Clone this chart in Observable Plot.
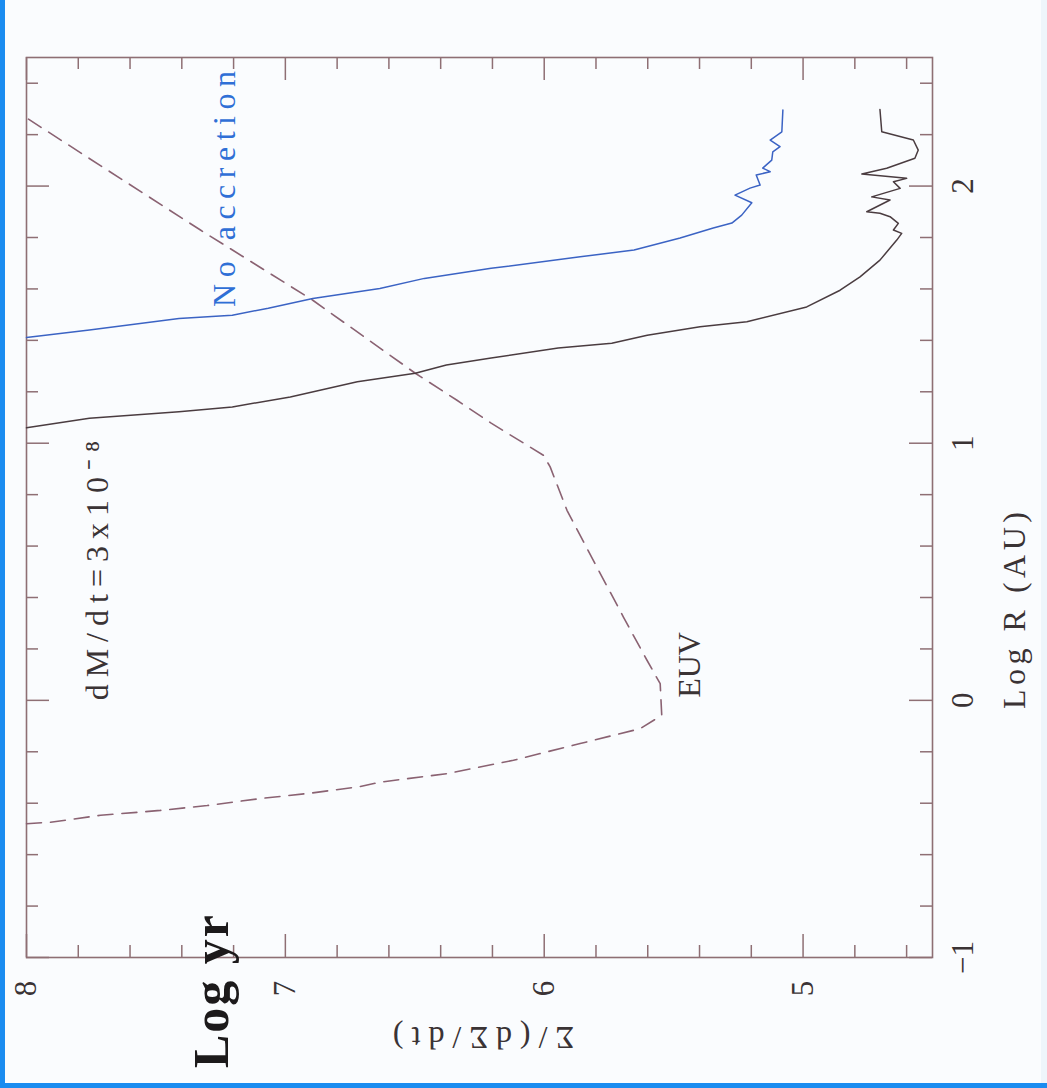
<!DOCTYPE html>
<html>
<head>
<meta charset="utf-8">
<script src="https://cdn.jsdelivr.net/npm/d3@7"></script>
<script src="https://cdn.jsdelivr.net/npm/@observablehq/plot@0.6"></script>
<style>
  html, body { margin: 0; padding: 0; background: #fafcfe; }
  #wrap { position: relative; width: 1047px; height: 1088px; overflow: hidden;
          box-shadow: inset 5px -5px 0 #1a8cf0, inset -6px 0 0 #eef5fb; }
  #wrap svg { display: block; }
</style>
</head>
<body>
<div id="wrap"></div>
<script>
// ---- Data ----
// x of the drawing = Σ/(dΣ/dt) in log yr (8 on the left), y = Log R (AU)
const sigmaTicks = [8, 7, 6, 5];
const sigmaMinor = [7.8, 7.6, 7.4, 7.2, 6.8, 6.6, 6.4, 6.2, 5.8, 5.6, 5.4, 5.2, 4.8, 4.6];
const logRTicks = [-1, 0, 1, 2];
const logRMinor = [-0.8, -0.6, -0.4, -0.2, 0.2, 0.4, 0.6, 0.8, 1.2, 1.4, 1.6, 1.8, 2.2, 2.4];

// dM/dt = 3x10^-8 (dark solid)
const accSigma = [8.0, 7.757, 7.411, 7.205, 6.981, 6.722, 6.498, 6.378, 6.205, 5.946, 5.739, 5.602, 5.398, 5.217, 4.986, 4.857, 4.780, 4.703, 4.638, 4.619, 4.651, 4.632, 4.664, 4.703, 4.754, 4.664, 4.735, 4.625, 4.651, 4.600, 4.773, 4.677, 4.568, 4.555, 4.574, 4.696, 4.703];
const accLogR  = [1.06, 1.097, 1.122, 1.141, 1.180, 1.239, 1.272, 1.304, 1.331, 1.370, 1.389, 1.420, 1.453, 1.472, 1.530, 1.595, 1.647, 1.712, 1.790, 1.816, 1.829, 1.855, 1.881, 1.894, 1.900, 1.946, 1.958, 1.991, 2.017, 2.030, 2.047, 2.069, 2.108, 2.140, 2.179, 2.211, 2.298];

// No accretion (blue solid)
const noAccSigma = [8.0, 7.757, 7.411, 7.205, 7.066, 6.894, 6.635, 6.463, 6.205, 5.861, 5.653, 5.475, 5.347, 5.275, 5.237, 5.198, 5.263, 5.205, 5.166, 5.181, 5.127, 5.156, 5.121, 5.117, 5.089, 5.127, 5.082, 5.078];
const noAccLogR  = [1.411, 1.440, 1.485, 1.498, 1.525, 1.563, 1.602, 1.641, 1.680, 1.725, 1.751, 1.798, 1.837, 1.856, 1.887, 1.935, 1.965, 1.992, 2.004, 2.043, 2.056, 2.070, 2.101, 2.133, 2.153, 2.179, 2.211, 2.296];

// EUV photoevaporation timescale (dashed)
const euvSigma = [8.0, 7.907, 7.714, 7.483, 7.302, 7.097, 6.903, 6.710, 6.633, 6.376, 6.119, 5.861, 5.629, 5.546, 5.552, 5.603, 5.694, 5.797, 5.912, 5.977, 6.003, 6.205, 6.337, 6.498, 6.894, 7.328, 8.0];
const euvLogR  = [-0.48, -0.474, -0.447, -0.428, -0.409, -0.382, -0.361, -0.335, -0.318, -0.285, -0.233, -0.168, -0.110, -0.058, 0.065, 0.156, 0.324, 0.519, 0.739, 0.908, 0.953, 1.078, 1.167, 1.272, 1.556, 1.829, 2.265];

// Text annotations (anchored in data space)
const noteText  = ["dM/dt=3x10⁻⁸", "EUV"];
const noteSigma = [7.726, 5.436];
const noteLogR  = [0.0, 0.01];
const blueText  = ["No accretion"];
const blueSigma = [7.235];
const blueLogR  = [1.53];
const bigText   = ["Log yr"];
const bigSigma  = [7.282];
const bigLogR   = [-1.43];
const xTitle = "Σ/(dΣ/dt)";
const yTitle = "Log R (AU)";

// ---- Styling ----
const frameColor = "#8e6f74";
const inkColor = "#3a3335";
const font = "Liberation Serif";
const fw = 906, fh = 900; // frame inner size
const major = 23, minor = 12;

const chart = Plot.plot({
  width: 1047,
  height: 1088,
  marginLeft: 26,
  marginRight: 115,
  marginTop: 57,
  marginBottom: 131,
  style: {background: "transparent", fontFamily: font, color: inkColor},
  x: {domain: [8, 4.5], axis: null},
  y: {domain: [-1, 2.5], axis: null},
  marks: [
    Plot.frame({stroke: frameColor, strokeWidth: 1.6}),
    // inward ticks on all four sides
    Plot.tickX(sigmaTicks, {insetBottom: fh - major, stroke: frameColor, strokeWidth: 1.5}),
    Plot.tickX(sigmaMinor, {insetBottom: fh - minor, stroke: frameColor, strokeWidth: 1.5}),
    Plot.tickX(sigmaTicks, {insetTop: fh - major, stroke: frameColor, strokeWidth: 1.5}),
    Plot.tickX(sigmaMinor, {insetTop: fh - minor, stroke: frameColor, strokeWidth: 1.5}),
    Plot.tickY(logRTicks, {insetRight: fw - major, stroke: frameColor, strokeWidth: 1.5}),
    Plot.tickY(logRMinor, {insetRight: fw - minor, stroke: frameColor, strokeWidth: 1.5}),
    Plot.tickY(logRTicks, {insetLeft: fw - major, stroke: frameColor, strokeWidth: 1.5}),
    Plot.tickY(logRMinor, {insetLeft: fw - minor, stroke: frameColor, strokeWidth: 1.5}),
    // tick labels (whole figure is turned 90° counter-clockwise)
    Plot.text(sigmaTicks, {x: d => d, text: d => String(d), frameAnchor: "bottom", dy: 31,
      rotate: -90, textAnchor: "middle", lineAnchor: "middle", fontSize: 31, fill: inkColor}),
    Plot.text(logRTicks, {y: d => d, text: d => d < 0 ? "−" + (-d) : String(d), frameAnchor: "right", dx: 31,
      rotate: -90, textAnchor: "middle", lineAnchor: "middle", fontSize: 31, fill: inkColor}),
    // axis titles
    Plot.text([xTitle], {frameAnchor: "bottom", dy: 80, rotate: 180, text: d => d,
      fontSize: 32, fill: inkColor, lineAnchor: "middle"}),
    Plot.text([yTitle], {frameAnchor: "right", dx: 82, rotate: -90, text: d => d,
      fontSize: 32, fill: inkColor, lineAnchor: "middle"}),
    // curves
    Plot.line(euvSigma.map((s, i) => ({s, r: euvLogR[i]})), {x: "s", y: "r",
      stroke: "#8a6272", strokeWidth: 1.6, strokeDasharray: "15,9"}),
    Plot.line(accSigma.map((s, i) => ({s, r: accLogR[i]})), {x: "s", y: "r",
      stroke: "#4a3c40", strokeWidth: 1.5}),
    Plot.line(noAccSigma.map((s, i) => ({s, r: noAccLogR[i]})), {x: "s", y: "r",
      stroke: "#3b63c4", strokeWidth: 1.5}),
    // annotations
    Plot.text(noteText, {x: noteSigma, y: noteLogR, text: d => d, rotate: -90,
      textAnchor: "start", lineAnchor: "middle", fontSize: 32, fill: inkColor}),
    Plot.text(blueText, {x: blueSigma, y: blueLogR, text: d => d, rotate: -90,
      textAnchor: "start", lineAnchor: "middle", fontSize: 32, fill: "#2f6fd6"}),
    Plot.text(bigText, {x: bigSigma, y: bigLogR, text: d => d, rotate: -90,
      textAnchor: "start", lineAnchor: "middle", fontSize: 50, fontWeight: "bold", fill: "#1c1a1b"})
  ]
});

// wide Hershey-like spacing for the PGPLOT lettering
const spacing = {"No accretion": 6.5, "dM/dt=3x10⁻⁸": 7, "Log R (AU)": 4.5, "Σ/(dΣ/dt)": 8, "Log yr": 2};
d3.select(chart).selectAll("text").each(function () {
  const s = spacing[this.textContent];
  if (s) this.setAttribute("letter-spacing", s);
});

document.getElementById("wrap").appendChild(chart);
</script>
</body>
</html>
